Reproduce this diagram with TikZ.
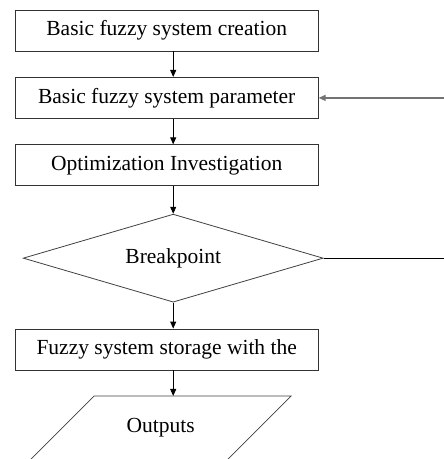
\documentclass[tikz,border=0pt]{standalone}
\usepackage{fontspec}
\setmainfont{Liberation Serif}
\usetikzlibrary{positioning,arrows.meta,shapes.geometric}

\begin{document}
\begin{tikzpicture}[
  font=\fontsize{21.5}{26}\selectfont, >={Triangle[length=7pt,width=6pt]},
  box/.style={draw=black!80, line width=0.9pt, minimum width=303pt, minimum height=41pt, inner sep=2pt},
  dec/.style={draw=black!75, line width=0.8pt, diamond, aspect=3.4, minimum width=300pt, minimum height=88pt, inner sep=0pt},
  io/.style={draw=black!75, line width=0.8pt},
  arr/.style={->, line width=0.9pt},
]
\useasboundingbox (0pt,0pt) rectangle (444pt,-459pt);
% main column
\node[box] (b1) at (166.7pt,-30.5pt) {Basic fuzzy system creation};
\node[box, below=25.5pt of b1] (b2) {Basic fuzzy system parameter};
\node[box, below=25.5pt of b2] (b3) {Optimization Investigation};
\node[dec, below=27.5pt of b3, xshift=6.5pt] (dia) {\raisebox{5pt}{Breakpoint}};
\node[box, below=26pt of dia, xshift=-6.5pt] (b4) {Fuzzy system storage with the};
\node (out) at ([shift={(-6pt,-57pt)}]b4.south) {Outputs};
\coordinate (outtop) at ([yshift=31.5pt]out.center);
\draw[io] (outtop) -| ++(-66.5pt,0pt) -- ++(-64pt,-64pt) -- ++(197pt,0pt) -- ++(64pt,64pt) -- cycle;

\draw[arr] (b1.south -| dia) -- (b2.north -| dia);
\draw[arr] (b2.south -| dia) -- (b3.north -| dia);
\draw[arr] (b3.south -| dia) -- (dia.north);
\draw[arr] (dia.south) -- (b4.north -| dia);
\draw[arr] (b4.south -| dia) -- (outtop -| dia);

% loop back on the right
\coordinate (edge) at (444pt,0pt);
\draw[line width=0.8pt] (dia.east) -- (dia.east -| edge);
\draw[arr, draw=black!55, line width=1.3pt] (b2 -| edge) -- (b2.east);
\end{tikzpicture}
\end{document}
